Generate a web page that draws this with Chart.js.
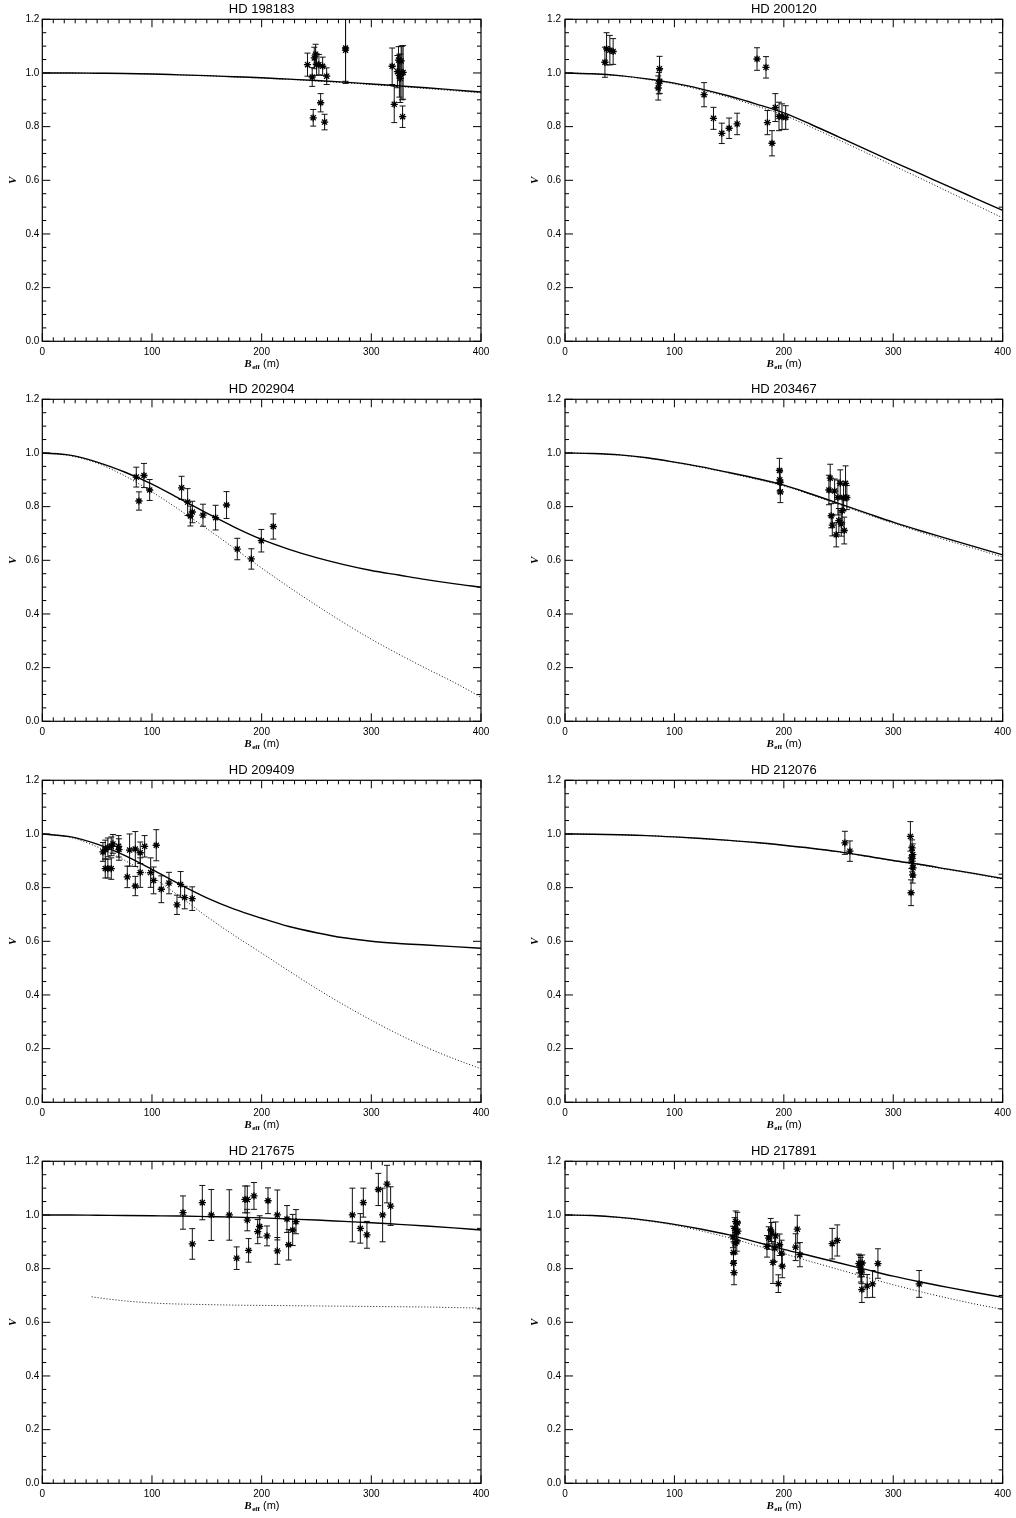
<!DOCTYPE html>
<html lang="en">
<head>
<meta charset="UTF-8">
<title>Visibility vs. effective baseline</title>
<script src="https://cdn.jsdelivr.net/npm/chart.js@4"></script>
<style>
  html, body { margin: 0; padding: 0; background: #fff; }
  #page { position: relative; width: 1016px; height: 1518px; overflow: hidden; }
  #page canvas { position: absolute; }
</style>
</head>
<body>
<div id="page"></div>
<script>
// ---- measured visibilities: baseline (m), V, 1-sigma error ----
const B_198183 = [241.8, 246.1, 247.0, 248.0, 249.2, 250.1, 252.2, 253.8, 255.6, 257.4, 259.3, 276.5, 276.5, 319.0, 320.9, 323.8, 324.8, 325.6, 326.4, 327.2, 327.9, 328.5, 329.0];
const V_198183 = [1.031, 0.985, 0.833, 1.056, 1.070, 1.031, 1.031, 0.889, 1.025, 0.817, 0.988, 1.085, 1.093, 1.025, 0.883, 1.005, 1.048, 0.990, 0.980, 1.045, 1.000, 0.837, 1.002];
const E_198183 = [0.043, 0.035, 0.031, 0.040, 0.037, 0.040, 0.038, 0.034, 0.034, 0.029, 0.031, 0.124, 0.124, 0.068, 0.068, 0.060, 0.050, 0.080, 0.090, 0.055, 0.100, 0.040, 0.100];

const B_200120 = [36.5, 38.0, 41.0, 44.0, 85.2, 85.8, 86.4, 86.6, 127.1, 135.7, 143.3, 150.0, 157.3, 175.5, 183.7, 185.0, 189.2, 192.2, 195.6, 198.3, 201.7];
const V_200120 = [1.040, 1.090, 1.085, 1.080, 0.944, 0.962, 1.016, 0.969, 0.919, 0.831, 0.775, 0.794, 0.810, 1.052, 1.021, 0.815, 0.738, 0.871, 0.838, 0.837, 0.834];
const E_200120 = [0.056, 0.060, 0.055, 0.048, 0.045, 0.040, 0.046, 0.045, 0.045, 0.041, 0.038, 0.038, 0.040, 0.042, 0.040, 0.045, 0.047, 0.052, 0.053, 0.048, 0.044];

const B_202904 = [85.7, 88.1, 92.7, 97.9, 127.0, 132.5, 135.0, 136.8, 146.5, 158.0, 168.0, 177.8, 190.6, 199.7, 210.6];
const V_202904 = [0.910, 0.821, 0.916, 0.862, 0.870, 0.817, 0.765, 0.780, 0.768, 0.759, 0.806, 0.642, 0.605, 0.673, 0.726];
const E_202904 = [0.037, 0.034, 0.045, 0.039, 0.043, 0.050, 0.037, 0.040, 0.041, 0.046, 0.050, 0.040, 0.038, 0.042, 0.047];

const B_203467 = [196.0, 196.3, 196.6, 196.8, 241.2, 242.4, 243.3, 244.3, 246.4, 247.9, 249.4, 250.3, 251.6, 252.5, 253.4, 254.6, 255.2, 256.4, 257.6];
const V_203467 = [0.935, 0.900, 0.890, 0.855, 0.862, 0.906, 0.766, 0.731, 0.858, 0.695, 0.834, 0.748, 0.887, 0.735, 0.785, 0.834, 0.711, 0.887, 0.834];
const E_203467 = [0.045, 0.040, 0.040, 0.040, 0.055, 0.052, 0.045, 0.040, 0.045, 0.045, 0.065, 0.045, 0.050, 0.045, 0.045, 0.050, 0.050, 0.065, 0.045];

const B_209409 = [55.3, 57.4, 59.8, 62.9, 64.4, 69.6, 69.9, 57.4, 59.8, 62.9, 79.6, 77.5, 84.8, 84.8, 89.3, 89.3, 93.3, 98.8, 101.5, 103.9, 108.5, 115.5, 122.8, 126.1, 129.8, 136.7];
const V_209409 = [0.933, 0.942, 0.950, 0.954, 0.963, 0.954, 0.942, 0.871, 0.871, 0.871, 0.940, 0.840, 0.944, 0.806, 0.930, 0.856, 0.954, 0.856, 0.827, 0.958, 0.794, 0.817, 0.736, 0.812, 0.763, 0.759];
const E_209409 = [0.035, 0.035, 0.035, 0.035, 0.035, 0.040, 0.040, 0.035, 0.035, 0.040, 0.060, 0.040, 0.065, 0.036, 0.040, 0.055, 0.040, 0.055, 0.050, 0.058, 0.050, 0.040, 0.036, 0.048, 0.042, 0.044];

const B_212076 = [255.8, 260.4, 315.7, 316.6, 317.2, 317.8, 317.2, 318.1, 317.8, 316.3];
const V_212076 = [0.967, 0.936, 0.991, 0.911, 0.948, 0.923, 0.899, 0.874, 0.847, 0.781];
const E_212076 = [0.043, 0.038, 0.055, 0.040, 0.030, 0.040, 0.040, 0.035, 0.030, 0.048];

const B_217675 = [128.3, 136.8, 145.9, 154.1, 170.5, 177.2, 184.8, 186.9, 186.9, 188.1, 193.0, 196.4, 198.2, 204.9, 205.8, 214.3, 214.3, 223.1, 224.6, 228.3, 231.3, 282.7, 290.0, 292.7, 296.0, 306.4, 310.3, 314.3, 317.6];
const V_217675 = [1.009, 0.892, 1.046, 1.000, 1.000, 0.839, 1.058, 1.058, 0.981, 0.868, 1.071, 0.938, 0.957, 0.922, 1.053, 1.000, 0.866, 0.985, 0.889, 0.944, 0.975, 1.000, 0.950, 1.046, 0.926, 1.095, 1.000, 1.115, 1.033];
const E_217675 = [0.062, 0.057, 0.064, 0.095, 0.094, 0.042, 0.050, 0.050, 0.040, 0.044, 0.050, 0.045, 0.040, 0.037, 0.048, 0.093, 0.050, 0.050, 0.057, 0.058, 0.045, 0.100, 0.055, 0.054, 0.050, 0.060, 0.100, 0.070, 0.072];

const B_217891 = [153.5, 154.0, 154.0, 154.5, 155.0, 155.5, 156.0, 156.5, 157.0, 158.0, 157.5, 184.6, 186.2, 188.0, 188.9, 190.1, 191.6, 192.5, 195.0, 196.2, 198.0, 198.6, 210.8, 212.3, 214.7, 244.2, 248.8, 268.6, 269.8, 270.4, 271.0, 271.3, 271.6, 276.2, 281.1, 286.0, 323.7];
const V_217891 = [0.918, 0.860, 0.820, 0.785, 0.950, 0.895, 0.975, 0.935, 0.900, 0.940, 0.970, 0.883, 0.914, 0.944, 0.932, 0.823, 0.877, 0.922, 0.744, 0.889, 0.858, 0.809, 0.880, 0.947, 0.852, 0.893, 0.905, 0.819, 0.809, 0.796, 0.784, 0.722, 0.821, 0.735, 0.743, 0.819, 0.743];
const E_217891 = [0.040, 0.040, 0.035, 0.045, 0.040, 0.040, 0.040, 0.040, 0.035, 0.035, 0.040, 0.040, 0.042, 0.043, 0.040, 0.078, 0.050, 0.052, 0.033, 0.040, 0.048, 0.043, 0.050, 0.052, 0.045, 0.057, 0.058, 0.035, 0.040, 0.046, 0.040, 0.048, 0.030, 0.043, 0.050, 0.055, 0.050];

// ---- model curves sampled every 25 m (solid = fit, dotted = alternative model) ----
const CURVE_B = [0, 25, 50, 75, 100, 125, 150, 175, 200, 225, 250, 275, 300, 325, 350, 375, 400];

const FIT_198183 = [1.000, 1.000, 0.999, 0.998, 0.996, 0.993, 0.990, 0.986, 0.982, 0.977, 0.972, 0.966, 0.959, 0.952, 0.945, 0.937, 0.929];
const ALT_198183 = [1.000, 1.000, 0.999, 0.998, 0.996, 0.993, 0.989, 0.985, 0.981, 0.976, 0.970, 0.964, 0.957, 0.950, 0.942, 0.934, 0.926];

const FIT_200120 = [1.000, 0.997, 0.990, 0.978, 0.962, 0.940, 0.914, 0.884, 0.851, 0.808, 0.762, 0.715, 0.669, 0.624, 0.578, 0.533, 0.488];
const ALT_200120 = [1.000, 0.997, 0.989, 0.976, 0.959, 0.936, 0.909, 0.877, 0.843, 0.798, 0.751, 0.703, 0.655, 0.607, 0.558, 0.509, 0.460];

const FIT_202904 = [1.000, 0.992, 0.966, 0.929, 0.884, 0.830, 0.776, 0.724, 0.678, 0.641, 0.610, 0.584, 0.562, 0.545, 0.528, 0.513, 0.500];
const ALT_202904 = [1.000, 0.990, 0.962, 0.915, 0.855, 0.788, 0.718, 0.645, 0.571, 0.500, 0.432, 0.367, 0.306, 0.250, 0.197, 0.146, 0.090];

const FIT_203467 = [1.000, 0.998, 0.993, 0.982, 0.966, 0.948, 0.927, 0.905, 0.880, 0.847, 0.812, 0.777, 0.742, 0.710, 0.680, 0.650, 0.620];
const ALT_203467 = [1.000, 0.998, 0.992, 0.981, 0.965, 0.946, 0.925, 0.902, 0.877, 0.844, 0.809, 0.773, 0.738, 0.705, 0.673, 0.643, 0.612];

const FIT_209409 = [1.000, 0.990, 0.962, 0.920, 0.868, 0.813, 0.762, 0.720, 0.686, 0.655, 0.632, 0.613, 0.600, 0.592, 0.586, 0.580, 0.574];
const ALT_209409 = [1.000, 0.988, 0.952, 0.902, 0.840, 0.768, 0.692, 0.622, 0.556, 0.489, 0.424, 0.363, 0.306, 0.253, 0.205, 0.163, 0.125];

const FIT_212076 = [1.000, 0.999, 0.997, 0.994, 0.989, 0.983, 0.976, 0.968, 0.958, 0.947, 0.934, 0.918, 0.901, 0.886, 0.869, 0.852, 0.834];
const ALT_212076 = [1.000, 0.999, 0.997, 0.994, 0.989, 0.983, 0.976, 0.967, 0.957, 0.946, 0.933, 0.917, 0.900, 0.884, 0.867, 0.850, 0.832];

const FIT_217675 = [1.000, 1.000, 0.999, 0.998, 0.997, 0.996, 0.994, 0.992, 0.989, 0.985, 0.981, 0.976, 0.971, 0.965, 0.959, 0.952, 0.944];
const ALT_B_217675 = [45, 50, 75, 100, 125, 150, 175, 200, 225, 250, 275, 300, 325, 350, 375, 400];
const ALT_217675 = [0.695, 0.692, 0.680, 0.672, 0.668, 0.666, 0.664, 0.663, 0.662, 0.661, 0.660, 0.659, 0.658, 0.657, 0.655, 0.653];

const FIT_217891 = [1.000, 0.998, 0.991, 0.980, 0.965, 0.947, 0.926, 0.899, 0.872, 0.847, 0.822, 0.797, 0.772, 0.750, 0.730, 0.711, 0.693];
const ALT_217891 = [1.000, 0.998, 0.990, 0.978, 0.962, 0.940, 0.915, 0.886, 0.856, 0.826, 0.797, 0.768, 0.740, 0.714, 0.690, 0.668, 0.648];

// axis ticks
const X_MAJOR = 100, X_MINOR = 10, X_MAX = 400;
const Y_MAJOR = 0.2, Y_MINOR = 0.05, Y_MAX = 1.2;

const panels = [
  { title: 'HD 198183', b: B_198183, v: V_198183, e: E_198183, fit: FIT_198183, alt: ALT_198183 },
  { title: 'HD 200120', b: B_200120, v: V_200120, e: E_200120, fit: FIT_200120, alt: ALT_200120 },
  { title: 'HD 202904', b: B_202904, v: V_202904, e: E_202904, fit: FIT_202904, alt: ALT_202904 },
  { title: 'HD 203467', b: B_203467, v: V_203467, e: E_203467, fit: FIT_203467, alt: ALT_203467 },
  { title: 'HD 209409', b: B_209409, v: V_209409, e: E_209409, fit: FIT_209409, alt: ALT_209409 },
  { title: 'HD 212076', b: B_212076, v: V_212076, e: E_212076, fit: FIT_212076, alt: ALT_212076 },
  { title: 'HD 217675', b: B_217675, v: V_217675, e: E_217675, fit: FIT_217675, alt: ALT_217675, altB: ALT_B_217675 },
  { title: 'HD 217891', b: B_217891, v: V_217891, e: E_217891, fit: FIT_217891, alt: ALT_217891 }
];

// ---- page layout ----
const SANS = '"Liberation Sans", Arial, Helvetica, sans-serif';
const SERIF = '"Liberation Serif", "Times New Roman", serif';
const INK = '#000';
const CANVAS_W = 508, CANVAS_H = 376;
const ROW_TOP = [0, 380, 761, 1142];
const COLS = [
  { left: 0,   yWidth: 42.3, padRight: 27,   vTitleX: 12.7 },
  { left: 508, yWidth: 57,   padRight: 12.7, vTitleX: 27 }
];
const X_AXIS_H = 34.7;

const toXY = (xs, ys) => xs.map((x, i) => ({ x, y: ys[i] }));

// IDL-style box: frame, inward ticks on all sides, error bars and axis titles
const idlFrame = {
  id: 'idlFrame',
  beforeDatasetsDraw(chart) {
    const { ctx, chartArea: a, scales: { x, y } } = chart;
    const ds = chart.data.datasets[0];
    ctx.save();
    ctx.beginPath();
    ctx.rect(a.left, a.top, a.right - a.left, a.bottom - a.top);
    ctx.clip();
    ctx.strokeStyle = '#111';
    ctx.lineWidth = 1;
    ds.data.forEach((pt, i) => {
      const err = ds.errors[i];
      const px = x.getPixelForValue(pt.x);
      const hi = y.getPixelForValue(pt.y + err);
      const lo = y.getPixelForValue(pt.y - err);
      ctx.beginPath();
      ctx.moveTo(px, hi); ctx.lineTo(px, lo);
      ctx.moveTo(px - 3, hi); ctx.lineTo(px + 3, hi);
      ctx.moveTo(px - 3, lo); ctx.lineTo(px + 3, lo);
      ctx.stroke();
    });
    ctx.restore();
  },
  afterDraw(chart, args, opts) {
    const { ctx, chartArea: a, scales: { x, y } } = chart;
    ctx.save();
    ctx.strokeStyle = INK;
    ctx.lineWidth = 1.2;
    ctx.strokeRect(a.left, a.top, a.right - a.left, a.bottom - a.top);

    ctx.lineWidth = 1;
    ctx.beginPath();
    const nx = Math.round(X_MAX / X_MINOR);
    for (let k = 0; k <= nx; k++) {
      const px = x.getPixelForValue(k * X_MINOR);
      const len = (k * X_MINOR) % X_MAJOR === 0 ? 8 : 4;
      ctx.moveTo(px, a.bottom); ctx.lineTo(px, a.bottom - len);
      ctx.moveTo(px, a.top); ctx.lineTo(px, a.top + len);
    }
    const ny = Math.round(Y_MAX / Y_MINOR);
    const perMajor = Math.round(Y_MAJOR / Y_MINOR);
    for (let k = 0; k <= ny; k++) {
      const py = y.getPixelForValue(k * Y_MINOR);
      const len = k % perMajor === 0 ? 8 : 4;
      ctx.moveTo(a.left, py); ctx.lineTo(a.left + len, py);
      ctx.moveTo(a.right, py); ctx.lineTo(a.right - len, py);
    }
    ctx.stroke();

    // x title: B_eff (m)
    ctx.fillStyle = INK;
    ctx.textBaseline = 'middle';
    const fB = 'italic bold 11px ' + SERIF;
    const fSub = 'bold 7px ' + SERIF;
    const fUnit = '11px ' + SANS;
    ctx.font = fB; const wB = ctx.measureText('B').width;
    ctx.font = fSub; const wS = ctx.measureText('eff').width;
    ctx.font = fUnit; const wU = ctx.measureText(' (m)').width;
    let tx = (a.left + a.right) / 2 - (wB + wS + wU) / 2;
    const ty = a.bottom + 23;
    ctx.textAlign = 'left';
    ctx.font = fB; ctx.fillText('B', tx, ty); tx += wB + 0.5;
    ctx.font = fSub; ctx.fillText('eff', tx, ty + 2.5); tx += wS;
    ctx.font = fUnit; ctx.fillText(' (m)', tx, ty);

    // y title: V
    ctx.translate(opts.vTitleX, (a.top + a.bottom) / 2);
    ctx.rotate(-Math.PI / 2);
    ctx.textAlign = 'center';
    ctx.font = 'italic bold 11px ' + SERIF;
    ctx.fillText('V', 0, 0);
    ctx.restore();
  }
};

const page = document.getElementById('page');

panels.forEach((p, idx) => {
  const col = COLS[idx % 2];
  const canvas = document.createElement('canvas');
  canvas.width = CANVAS_W;
  canvas.height = CANVAS_H;
  canvas.style.left = col.left + 'px';
  canvas.style.top = ROW_TOP[Math.floor(idx / 2)] + 'px';
  canvas.style.width = CANVAS_W + 'px';
  canvas.style.height = CANVAS_H + 'px';
  page.appendChild(canvas);

  new Chart(canvas.getContext('2d'), {
    type: 'scatter',
    data: {
      datasets: [
        {
          data: toXY(p.b, p.v),
          errors: p.e,
          pointStyle: 'star',
          pointRadius: 3.6,
          borderColor: INK,
          backgroundColor: INK,
          borderWidth: 1.3
        },
        {
          data: toXY(CURVE_B, p.fit),
          showLine: true,
          pointRadius: 0,
          borderColor: INK,
          borderWidth: 1.4,
          cubicInterpolationMode: 'monotone'
        },
        {
          data: toXY(p.altB || CURVE_B, p.alt),
          showLine: true,
          pointRadius: 0,
          borderColor: '#111',
          borderWidth: 1,
          borderDash: [1, 2],
          cubicInterpolationMode: 'monotone'
        }
      ]
    },
    options: {
      responsive: false,
      animation: false,
      events: [],
      layout: { padding: { left: 0, right: col.padRight, top: 0, bottom: 0 } },
      plugins: {
        legend: { display: false },
        tooltip: { enabled: false },
        title: {
          display: true,
          text: p.title,
          fullSize: false,
          color: INK,
          font: { family: SANS, size: 13, weight: 'normal' },
          padding: { top: 1.5, bottom: 2.2 }
        },
        idlFrame: { vTitleX: col.vTitleX }
      },
      scales: {
        x: {
          type: 'linear',
          min: 0,
          max: X_MAX,
          grid: { display: false, drawTicks: false },
          border: { display: false },
          ticks: {
            stepSize: X_MAJOR,
            padding: 5,
            maxRotation: 0,
            color: INK,
            font: { family: SANS, size: 10 },
            callback: v => String(v)
          },
          afterFit: s => { s.height = X_AXIS_H; }
        },
        y: {
          type: 'linear',
          min: 0,
          max: Y_MAX,
          grid: { display: false, drawTicks: false },
          border: { display: false },
          ticks: {
            stepSize: Y_MAJOR,
            padding: idx % 2 === 0 ? 3 : 4,
            color: INK,
            font: { family: SANS, size: 10 },
            callback: v => v.toFixed(1)
          },
          afterFit: s => { s.width = col.yWidth; }
        }
      }
    },
    plugins: [idlFrame]
  });
});
</script>
</body>
</html>
